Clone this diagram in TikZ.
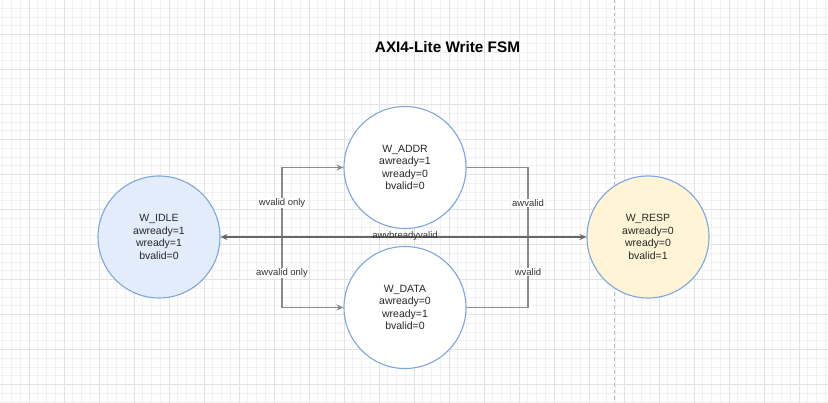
\documentclass[tikz,border=0pt]{standalone}
\usepackage{fontspec}
\setmainfont{Liberation Sans}
\usetikzlibrary{arrows.meta}
\definecolor{gridminor}{HTML}{F1F1F1}
\definecolor{gridmajor}{HTML}{E2E2E2}
\definecolor{stateline}{HTML}{7EA6E0}
\definecolor{idlefill}{HTML}{E3ECFB}
\definecolor{respfill}{HTML}{FFF4D6}
\definecolor{edgegray}{HTML}{8A8A8A}
\definecolor{maingray}{HTML}{666666}
\definecolor{dashgray}{HTML}{BDBDBD}
\tikzset{
  state/.style={circle, draw=stateline, line width=1.1pt, minimum size=122pt, inner sep=0pt,
    align=center, font=\fontsize{10.5}{12.5}\selectfont, text=black!85},
  edgelabel/.style={fill=white, inner sep=0.8pt, font=\fontsize{9.5}{11}\selectfont, text=black!80},
  mainlabel/.style={inner sep=0pt, font=\fontsize{9.5}{11}\selectfont, text=black!80},
  conn/.style={draw=edgegray, line width=1.1pt},
  tip/.style={-{Stealth[length=7pt,width=6pt]}},
}
\begin{document}
\begin{tikzpicture}[x=1pt,y=-1pt]
\useasboundingbox (0,0) rectangle (828,403);
\fill[white] (0,0) rectangle (828,403);
% grid
\foreach \x in {2.75,11.5,...,828} \draw[gridminor, line width=0.6pt] (\x,0) -- (\x,403);
\foreach \y in {8.25,17,...,403} \draw[gridminor, line width=0.6pt] (0,\y) -- (828,\y);
\foreach \x in {29,64,...,828} \draw[gridmajor, line width=0.9pt] (\x,0) -- (\x,403);
\foreach \y in {34.5,69.5,...,403} \draw[gridmajor, line width=0.9pt] (0,\y) -- (828,\y);
\draw[dashgray, line width=0.9pt, dash pattern=on 3.5pt off 3pt] (614,0) -- (614,403);
% title
\node[font=\bfseries\fontsize{15.3}{18}\selectfont] (title) at (447.5,47) {AXI4-Lite Write FSM};
% states
\node[state, fill=idlefill] (idle) at (159,237) {W\_IDLE\\awready=1\\wready=1\\bvalid=0};
\node[state, fill=white] (addr) at (405,167.5) {W\_ADDR\\awready=1\\wready=0\\bvalid=0};
\node[state, fill=white] (data) at (405,307.5) {W\_DATA\\awready=0\\wready=1\\bvalid=0};
\node[state, fill=respfill] (resp) at (648,237) {W\_RESP\\awready=0\\wready=0\\bvalid=1};
% junctions
\coordinate (jl) at (282,237);
\coordinate (jr) at (528,237);
% left fan-out
\draw[conn, tip] (jl) |- (addr.west);
\draw[conn, tip] (jl) |- (data.west);
% right fan-in
\draw[conn] (addr.east) -| (jr);
\draw[conn] (data.east) -| (jr);
% labels on vertical segments
\node[edgelabel] (l1) at (282,203) {wvalid only};
\node[edgelabel] (l2) at (282,273) {awvalid only};
\node[edgelabel] (l3) at (528,203) {awvalid};
\node[edgelabel] (l4) at (528,272) {wvalid};
% main bidirectional edge
\draw[draw=maingray, line width=1.4pt, {Stealth[length=7pt,width=6pt]}-{Stealth[length=7pt,width=6pt]}] (idle.east) -- (resp.west);
\node[mainlabel] (l5) at (405,236.5) {awvbreadyvalid};
\end{tikzpicture}
\end{document}
